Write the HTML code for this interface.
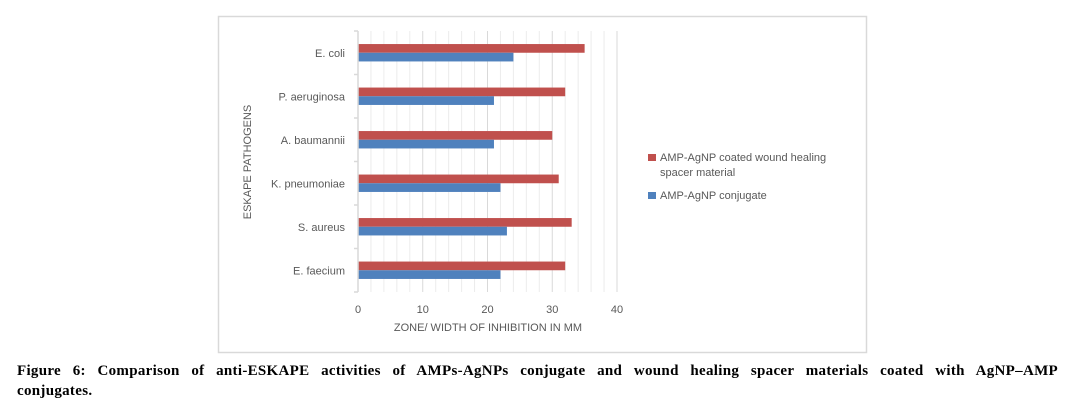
<!DOCTYPE html>
<html><head><meta charset="utf-8"><style>
body{margin:0;width:1075px;height:405px;background:#fff;overflow:hidden;position:relative}
svg{position:absolute;left:0;top:0}
#cap{position:absolute;left:17px;top:361px;width:1041px;font:bold 15px "Liberation Serif",serif;line-height:20px;color:#000;letter-spacing:0.3px}
#cap span{display:block}
#l1{text-align:justify;text-align-last:justify;white-space:nowrap}
</style></head><body>
<svg width="1075" height="360">
<rect x="218.5" y="16.5" width="648" height="336" fill="#fff" stroke="#d9d9d9" stroke-width="1.5"/>
<g id="grid"></g><g id="bars"></g><g id="labels"></g>
<line x1="358" y1="31" x2="358" y2="292" stroke="#d9d9d9" stroke-width="1.5"/>
<text x="0" y="0" transform="translate(251,162) rotate(-90)" text-anchor="middle" font-family="Liberation Sans,sans-serif" font-size="11" fill="#595959">ESKAPE PATHOGENS</text>
<text x="488" y="331" text-anchor="middle" font-family="Liberation Sans,sans-serif" font-size="11" fill="#595959">ZONE/ WIDTH OF INHIBITION IN MM</text>
<g font-family="Liberation Sans,sans-serif" font-size="11" fill="#595959">
<rect x="648" y="154" width="8" height="7" fill="#c0504d"/>
<text x="660" y="161">AMP-AgNP coated wound healing</text>
<text x="660" y="176">spacer material</text>
<rect x="648" y="192" width="8" height="7" fill="#4f81bd"/>
<text x="660" y="199">AMP-AgNP conjugate</text>
</g>
</svg>
<div id="cap"><span id="l1">Figure 6: Comparison of anti-ESKAPE activities of AMPs-AgNPs conjugate and wound healing spacer materials coated with AgNP–AMP</span><span>conjugates.</span></div>
<script>
const categories=["E. coli","P. aeruginosa","A. baumannii","K. pneumoniae","S. aureus","E. faecium"];
const coatedValues=[35,32,30,31,33,32];
const conjugateValues=[24,21,21,22,23,22];
const xTicks=[0,10,20,30,40];
const NS="http://www.w3.org/2000/svg";
const x0=358,x1=617,yTop=31,yBot=292,xMax=40;
const xs=v=>x0+(v/xMax)*(x1-x0);
const band=(yBot-yTop)/categories.length;
const grid=document.getElementById('grid'),bars=document.getElementById('bars'),labels=document.getElementById('labels');
function mk(t,a,p){const e=document.createElementNS(NS,t);for(const k in a)e.setAttribute(k,a[k]);p.appendChild(e);return e;}
for(let v=2;v<=xMax;v+=2){
 const l=mk('line',{x1:xs(v),x2:xs(v),y1:yTop,y2:yBot,stroke:v%10==0?'#d9d9d9':'#ececec','stroke-width':1},grid);
 
 
}
for(let i=0;i<=categories.length;i++){
 const t=mk('line',{x1:354,x2:358,y1:yTop+i*band,y2:yTop+i*band,stroke:'#d9d9d9','stroke-width':1.5},grid);
 
 
}
xTicks.forEach(v=>{
 const t=mk('text',{x:xs(v),y:313,'text-anchor':'middle','font-family':'Liberation Sans,sans-serif','font-size':11,fill:'#595959'},labels);
 t.textContent=v;
 
 
});
const bh=8.7;
categories.forEach((c,i)=>{
 const cy=yTop+i*band+band/2;
 const r=mk('rect',{x:x0,y:cy-bh,width:xs(coatedValues[i])-x0,height:bh,fill:'#c0504d'},bars);
 
 
 const b=mk('rect',{x:x0,y:cy,width:xs(conjugateValues[i])-x0,height:bh,fill:'#4f81bd'},bars);
 
 
 const t=mk('text',{x:345,y:cy+4,'text-anchor':'end','font-family':'Liberation Sans,sans-serif','font-size':11,fill:'#595959'},labels);
 t.textContent=c;
 
 
});
</script>
</body></html>
